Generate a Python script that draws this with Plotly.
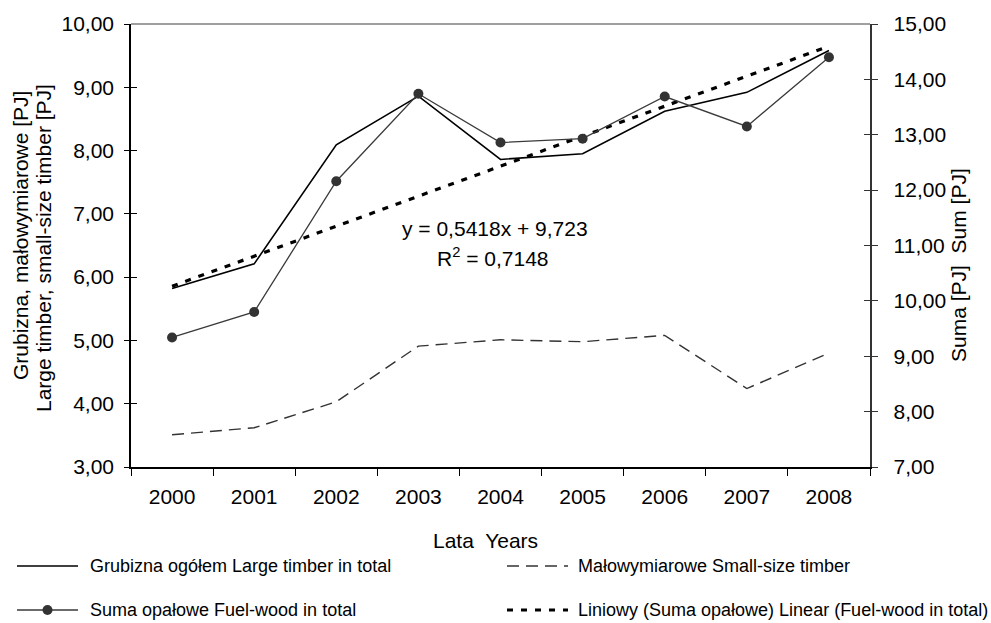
import plotly.graph_objects as go

# Data [PJ]
years = ["2000", "2001", "2002", "2003", "2004", "2005", "2006", "2007", "2008"]
large_timber = [5.82, 6.21, 8.09, 8.86, 7.86, 7.95, 8.62, 8.92, 9.58]
small_timber = [3.51, 3.62, 4.03, 4.91, 5.01, 4.98, 5.08, 4.24, 4.80]
fuel_wood_total = [9.34, 9.80, 12.16, 13.74, 12.86, 12.93, 13.69, 13.15, 14.40]

# Linear trend of fuel-wood total (x = 1..9)
trend_slope = 0.5418
trend_intercept = 9.723
trend_values = [trend_slope * (i + 1) + trend_intercept for i in range(len(years))]

left_ticks = [3, 4, 5, 6, 7, 8, 9, 10]
right_ticks = [7, 8, 9, 10, 11, 12, 13, 14, 15]
# right-axis labels, padded away from the axis line
right_ticktext = ["\u00a0\u00a0" + f"{v:.2f}".replace(".", ",") for v in right_ticks]

FONT = "Liberation Sans, Arial, sans-serif"
TICK_FS = 21
TEXT_FS = 21
LEGEND_FS = 18
TITLE_FS = 21

# Plot area geometry (pixels) used for placing text outside the axes
W, H = 991, 623
L, R, T, B = 131, 121, 24, 156
PW, PH = W - L - R, H - T - B


def px(xpix):
    return (xpix - L) / PW


def py(ypix):
    return (H - B - ypix) / PH


fig = go.Figure()

fig.add_trace(go.Scatter(
    x=years, y=large_timber, mode="lines",
    line=dict(color="#000000", width=1.6),
    name="Grubizna ogółem Large timber in total", yaxis="y"))

fig.add_trace(go.Scatter(
    x=years, y=small_timber, mode="lines",
    line=dict(color="#333333", width=1.4, dash="12px,7px"),
    name="Małowymiarowe Small-size timber", yaxis="y"))

fig.add_trace(go.Scatter(
    x=years, y=trend_values, mode="lines",
    line=dict(color="#000000", width=3.2, dash="6px,8px"),
    name="Liniowy (Suma opałowe) Linear (Fuel-wood in total)", yaxis="y2"))

fig.add_trace(go.Scatter(
    x=years, y=fuel_wood_total, mode="lines+markers",
    line=dict(color="#3a3a3a", width=1.3),
    marker=dict(symbol="circle", size=10, color="#333333"),
    name="Suma opałowe Fuel-wood in total", yaxis="y2"))

tickfont = dict(size=TICK_FS, family=FONT, color="#000000")

fig.update_layout(
    width=W, height=H,
    margin=dict(l=L, r=R, t=T, b=B),
    paper_bgcolor="white", plot_bgcolor="white",
    showlegend=False,
    separators=", ",
    font=dict(family=FONT, size=TEXT_FS, color="#000000"),
    xaxis=dict(
        type="category", range=[-0.5, len(years) - 0.5],
        showline=True, linecolor="#000000", linewidth=1.5,
        ticks="outside", tickson="boundaries", ticklen=7, tickcolor="#000000",
        tickwidth=1, showgrid=False, zeroline=False,
        ticklabelstandoff=10, tickfont=tickfont),
    yaxis=dict(
        range=[3, 10], tickvals=left_ticks, tickformat=".2f",
        showline=True, linecolor="#000000", linewidth=1.5,
        ticks="outside", ticklen=5, tickcolor="#000000",
        showgrid=False, zeroline=False,
        ticklabelstandoff=6, tickfont=tickfont),
    yaxis2=dict(
        range=[7, 15], tickvals=right_ticks, ticktext=right_ticktext,
        overlaying="y", side="right", anchor="x",
        showline=True, linecolor="#333333", linewidth=1.5,
        ticks="outside", ticklen=6, tickcolor="#333333",
        showgrid=False, zeroline=False, tickfont=tickfont),
    # inner halves of the crossing tick marks
    yaxis3=dict(
        range=[3, 10], tickvals=left_ticks, overlaying="y", side="left",
        anchor="x", ticks="inside", ticklen=6, tickcolor="#000000",
        showticklabels=False, showgrid=False, zeroline=False, showline=False),
    yaxis4=dict(
        range=[7, 15], tickvals=right_ticks, overlaying="y", side="right",
        anchor="x", ticks="inside", ticklen=6, tickcolor="#333333",
        showticklabels=False, showgrid=False, zeroline=False, showline=False),
)

# Invisible carriers so the tick-only axes are drawn
fig.add_trace(go.Scatter(x=[years[0]], y=[3], yaxis="y3", mode="markers",
                         marker=dict(opacity=0), hoverinfo="skip"))
fig.add_trace(go.Scatter(x=[years[0]], y=[7], yaxis="y4", mode="markers",
                         marker=dict(opacity=0), hoverinfo="skip"))

# Top frame line
fig.add_shape(type="line", xref="paper", yref="paper", x0=0, x1=1, y0=1, y1=1,
              line=dict(color="#7f7f7f", width=1.5))

title_font = dict(family=FONT, size=TITLE_FS, color="#000000")
fig.add_annotation(xref="paper", yref="paper", showarrow=False, textangle=-90,
                   x=px(20), y=py(236), xanchor="center", yanchor="middle",
                   text="Grubizna, małowymiarowe [PJ]", font=title_font)
fig.add_annotation(xref="paper", yref="paper", showarrow=False, textangle=-90,
                   x=px(43), y=py(248), xanchor="center", yanchor="middle",
                   text="Large timber, small-size timber [PJ]", font=title_font)
fig.add_annotation(xref="paper", yref="paper", showarrow=False, textangle=-90,
                   x=px(958), y=py(265), xanchor="center", yanchor="middle",
                   text="Suma [PJ]  Sum [PJ]", font=title_font)

text_font = dict(family=FONT, size=TEXT_FS, color="#000000")
for txt, xc, yc in [("Lata  Years", 485, 540),
                    ("y = 0,5418x + 9,723", 495, 228),
                    ("R<sup>2</sup> = 0,7148", 493, 257)]:
    fig.add_annotation(xref="paper", yref="paper", showarrow=False,
                       x=px(xc), y=py(yc), xanchor="center", yanchor="middle",
                       text=txt, font=text_font)

# Legend drawn below the chart: sample line + label for each series
legend_rows = [
    (17, 78, 88, 566, "Grubizna ogółem Large timber in total",
     dict(color="#000000", width=1.6), False),
    (507, 568, 576, 566, "Małowymiarowe Small-size timber",
     dict(color="#333333", width=1.4, dash="12px,7px"), False),
    (17, 78, 88, 610, "Suma opałowe Fuel-wood in total",
     dict(color="#3a3a3a", width=1.3), True),
    (507, 568, 576, 610, "Liniowy (Suma opałowe) Linear (Fuel-wood in total)",
     dict(color="#000000", width=3.2, dash="6px,8px"), False),
]
for x0, x1, xt, yrow, label, lstyle, marker in legend_rows:
    fig.add_shape(type="line", xref="paper", yref="paper",
                  x0=px(x0), x1=px(x1), y0=py(yrow), y1=py(yrow), line=lstyle)
    if marker:
        fig.add_shape(type="circle", xref="paper", yref="paper",
                      xsizemode="pixel", ysizemode="pixel",
                      xanchor=px((x0 + x1) / 2), yanchor=py(yrow),
                      x0=-5, x1=5, y0=-5, y1=5,
                      fillcolor="#333333", line=dict(color="#333333", width=0))
    fig.add_annotation(xref="paper", yref="paper", showarrow=False,
                       x=px(xt), y=py(yrow), xanchor="left", yanchor="middle",
                       text=label, font=dict(family=FONT, size=LEGEND_FS, color="#000000"))

fig.write_html("out.html")
